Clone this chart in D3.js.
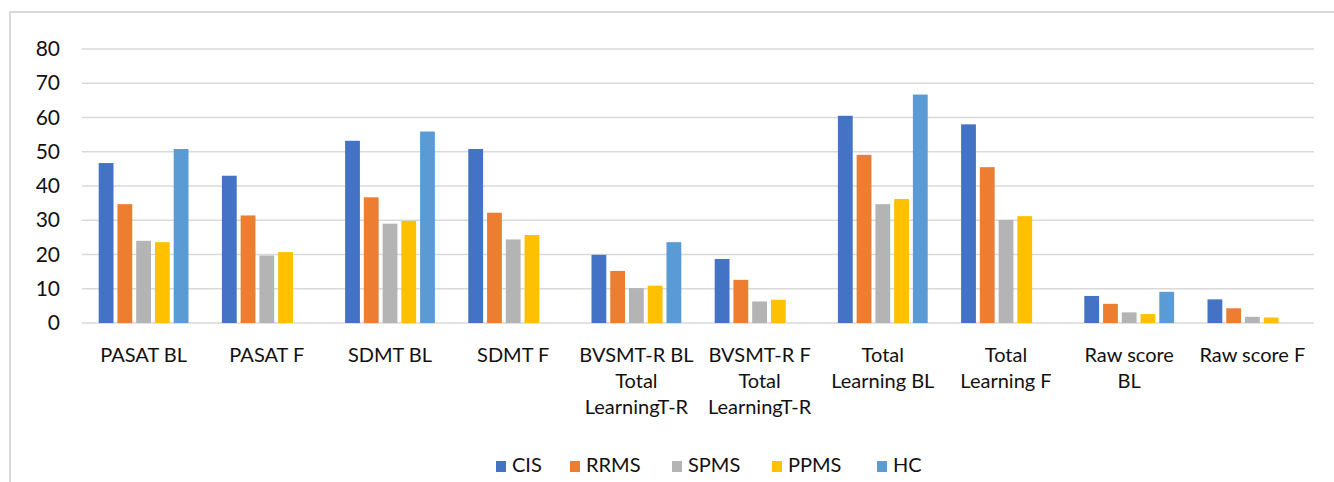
<!DOCTYPE html>
<html>
<head>
<meta charset="utf-8">
<script src="https://cdn.jsdelivr.net/npm/d3@7"></script>
<style>
  body { margin: 0; background: #fff; }
  text { font-family: Lato, "Open Sans", sans-serif; fill: #111; }
</style>
</head>
<body>
<script>
// data
var categories = ["PASAT BL", "PASAT F", "SDMT BL", "SDMT F",
    "BVSMT-R BL Total LearningT-R", "BVSMT-R F Total LearningT-R",
    "Total Learning BL", "Total Learning F", "Raw score BL", "Raw score F"];
var categoryLines = [["PASAT BL"], ["PASAT F"], ["SDMT BL"], ["SDMT F"],
    ["BVSMT-R BL", "Total", "LearningT-R"], ["BVSMT-R F", "Total", "LearningT-R"],
    ["Total", "Learning BL"], ["Total", "Learning F"], ["Raw score", "BL"], ["Raw score F"]];
var seriesNames = ["CIS", "RRMS", "SPMS", "PPMS", "HC"];
var seriesColors = ["#4472C4", "#ED7D31", "#B4B4B4", "#FFC000", "#5B9BD5"];
var cis  = [46.7, 43.0, 53.2, 50.8, 19.9, 18.7, 60.5, 58.0, 7.9, 6.9];
var rrms = [34.7, 31.4, 36.7, 32.2, 15.2, 12.6, 49.1, 45.5, 5.6, 4.3];
var spms = [24.0, 19.7, 29.0, 24.4, 10.2, 6.3, 34.7, 30.1, 3.1, 1.8];
var ppms = [23.6, 20.7, 29.8, 25.7, 10.9, 6.8, 36.2, 31.2, 2.6, 1.6];
var hc   = [50.8, null, 55.9, null, 23.6, null, 66.7, null, 9.1, null];
var yTicks = [0, 10, 20, 30, 40, 50, 60, 70, 80];

var seriesValues = [cis, rrms, spms, ppms, hc];

var W = 1334, H = 482;
var plot = {left: 82, right: 1314, top: 49, bottom: 323};

var svg = d3.select("body").append("svg")
    .attr("width", W).attr("height", H);

// chart frame
svg.append("rect")
    .attr("x", 10).attr("y", 12)
    .attr("width", 1400).attr("height", 600)
    .attr("fill", "none")
    .attr("stroke", "#d9d9d9")
    .attr("stroke-width", 2);

var x0 = d3.scaleBand().domain(categories).range([plot.left, plot.right]);
var groupW = x0.bandwidth() * 0.729;
var x1 = d3.scaleBand().domain(seriesNames).range([0, groupW]).paddingInner(0.21);
var y = d3.scaleLinear().domain([0, 80]).range([plot.bottom, plot.top]);

// gridlines
svg.append("g").selectAll("line").data(yTicks).enter().append("line")
    .attr("x1", plot.left).attr("x2", plot.right)
    .attr("y1", function(d) { return y(d); })
    .attr("y2", function(d) { return y(d); })
    .attr("stroke", "#d9d9d9")
    .attr("stroke-width", 1.5);

// y axis labels
var yAxis = d3.axisLeft(y).tickValues(yTicks).tickSize(0).tickPadding(0);
var yAxisGroup = svg.append("g")
    .attr("transform", "translate(60,0)")
    .call(yAxis);
yAxisGroup.select(".domain").remove();
yAxisGroup.selectAll("text")
    .style("font-family", "Lato, sans-serif")
    .attr("font-size", "21px")
    .attr("fill", "#111");

// bars
var rows = [];
categories.forEach(function(c, i) {
    seriesNames.forEach(function(s, j) {
        var v = seriesValues[j][i];
        if (v !== null) rows.push({cat: c, series: s, value: v, color: seriesColors[j]});
    });
});

svg.append("g").selectAll("rect").data(rows).enter().append("rect")
    .attr("x", function(d) { return x0(d.cat) + (x0.bandwidth() - groupW) / 2 + x1(d.series); })
    .attr("y", function(d) { return y(d.value); })
    .attr("width", x1.bandwidth())
    .attr("height", function(d) { return y(0) - y(d.value); })
    .attr("fill", function(d) { return d.color; });

// category labels
var catG = svg.append("g").selectAll("text").data(categories).enter().append("text")
    .attr("x", function(d) { return x0(d) + x0.bandwidth() / 2; })
    .attr("y", 362)
    .attr("text-anchor", "middle")
    .attr("font-size", "20px");
catG.each(function(d, i) {
    var t = d3.select(this);
    categoryLines[i].forEach(function(line, k) {
        t.append("tspan")
            .attr("x", x0(d) + x0.bandwidth() / 2)
            .attr("dy", k === 0 ? 0 : 26)
            .text(line);
    });
});

// legend
var legendX = [496, 570, 672, 772, 877];
var legend = svg.append("g").selectAll("g").data(seriesNames).enter().append("g")
    .attr("transform", function(d, i) { return "translate(" + legendX[i] + ",461)"; });
legend.append("rect")
    .attr("width", 10).attr("height", 11)
    .attr("fill", function(d, i) { return seriesColors[i]; });
legend.append("text")
    .attr("x", 16).attr("y", 11)
    .attr("font-size", "20px")
    .text(function(d) { return d; });
</script>
</body>
</html>
